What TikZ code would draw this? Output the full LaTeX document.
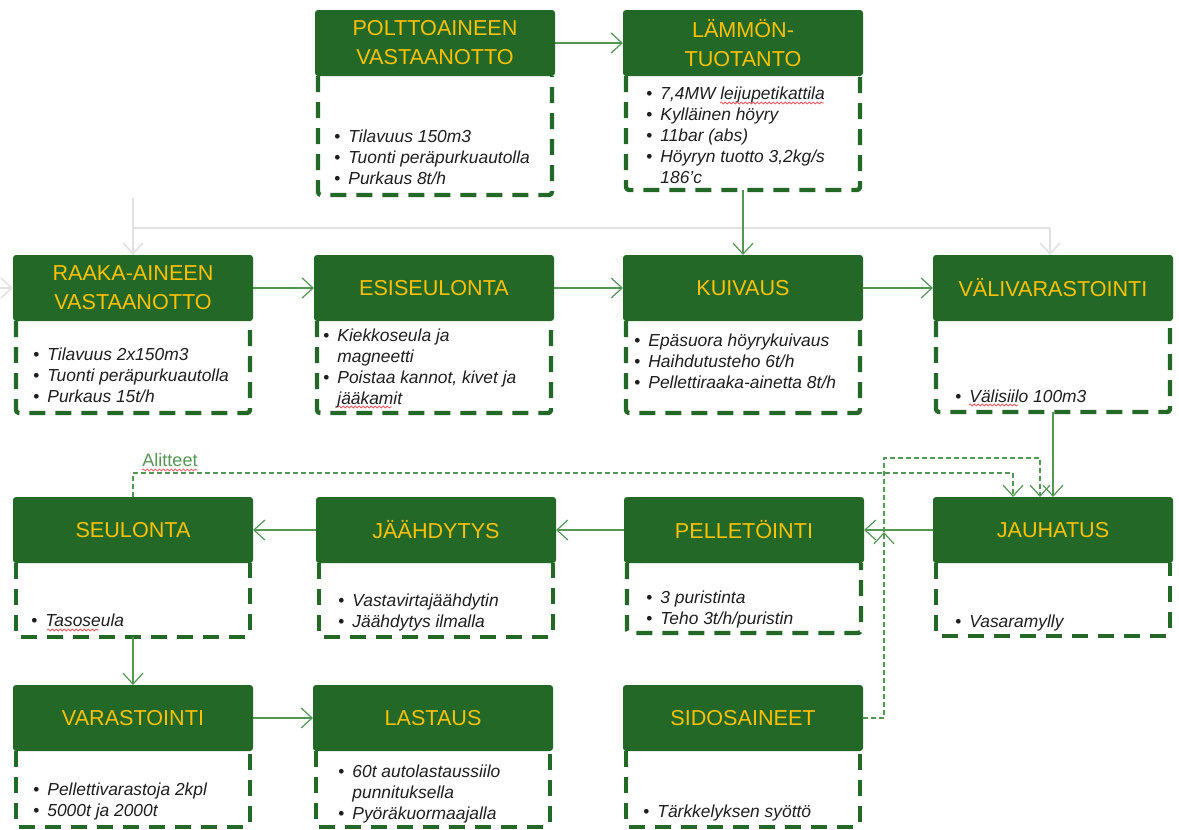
\documentclass[tikz,border=0pt]{standalone}
\usepackage{fontspec}
\setmainfont{Liberation Sans}
\usetikzlibrary{arrows.meta,positioning,decorations.pathmorphing}
\definecolor{hdgreen}{RGB}{35,104,39}
\definecolor{hdyellow}{RGB}{255,192,0}
\definecolor{lngreen}{RGB}{84,150,84}
\definecolor{lngrey}{RGB}{226,226,226}
\definecolor{txtcol}{RGB}{30,30,30}
\definecolor{spellred}{RGB}{235,90,90}
\newcommand{\lbul}{\makebox[7pt][l]{\upshape\textbullet}}
\newcommand{\lind}{\hspace*{7pt}}
\begin{document}
\begin{tikzpicture}[x=0.5pt,y=-0.5pt,line join=round,>={Straight Barb[length=5.5pt,width=10pt]}]
\tikzset{head/.style={fill=hdgreen,text=hdyellow,rounded corners=1.5pt,minimum width=120pt,minimum height=33pt,inner sep=0pt,outer sep=0pt,align=center,font=\fontsize{10.8}{14.5}\selectfont},
  frame/.style={minimum width=117pt,inner sep=0pt,outer sep=0pt},
  dashbox/.style={draw=hdgreen,line width=2.2pt,dash pattern=on 8pt off 5pt,rounded corners=1.5pt},
  lst/.style={anchor=north west,inner sep=0pt,align=left,text=txtcol,font=\fontsize{8.7}{10.5}\selectfont\itshape},
  flow/.style={draw=lngreen,line width=0.6pt,->},
  gflow/.style={draw=lngrey,line width=0.8pt},
  dflow/.style={draw=lngreen,line width=0.6pt,dash pattern=on 2.5pt off 1.5pt},
  squig/.style={draw=spellred,line width=0.4pt,decorate,decoration={snake,amplitude=0.5pt,segment length=2pt}}}
\useasboundingbox (0,0) rectangle (1179,830);
\node[head] (polt) at (435,43) {POLTTOAINEEN\\VASTAANOTTO};
\node[head] (lammo) at (743,43) {LÄMMÖN-\\TUOTANTO};
\node[head] (raaka) at (133,288) {RAAKA-AINEEN\\VASTAANOTTO};
\node[head] (esis) at (434,288) {ESISEULONTA};
\node[head] (kuiv) at (743,288) {KUIVAUS};
\node[head] (vali) at (1053,288) {VÄLIVARASTOINTI};
\node[head] (seul) at (133,530) {SEULONTA};
\node[head] (jaah) at (436,530) {JÄÄHDYTYS};
\node[head] (pell) at (744,530) {PELLETÖINTI};
\node[head] (jauh) at (1053,530) {JAUHATUS};
\node[head] (vara) at (133,718) {VARASTOINTI};
\node[head] (last) at (433,718) {LASTAUS};
\node[head] (sido) at (743,718) {SIDOSAINEET};
\foreach \n/\h in {polt/59.5pt,lammo/57pt,raaka/46pt,esis/46pt,kuiv/46pt,vali/45.5pt,seul/37pt,jaah/37pt,pell/35pt,jauh/36.5pt,vara/38pt,last/38pt,sido/38pt}
{\node[frame,minimum height=\h,below=0pt of \n] (\n f) {};
 \draw[dashbox] (\n f.north west) |- (\n f.south east) -- (\n f.north east);}
\node[lst] (polttxt) at (334,129) {\lbul Tilavuus 150m3\\\lbul Tuonti peräpurkuautolla\\\lbul Purkaus 8t/h};
\node[lst] (lammotxt) at (646,86) {\lbul 7,4MW leijupetikattila\\\lbul Kylläinen höyry\\\lbul 11bar (abs)\\\lbul Höyryn tuotto 3,2kg/s\\\lind 186’c};
\node[lst] (raakatxt) at (33,347) {\lbul Tilavuus 2x150m3\\\lbul Tuonti peräpurkuautolla\\\lbul Purkaus 15t/h};
\node[lst] (esistxt) at (323,328) {\lbul Kiekkoseula ja\\\lind magneetti\\\lbul Poistaa kannot, kivet ja\\\lind jääkamit};
\node[lst] (kuivtxt) at (634,333) {\lbul Epäsuora höyrykuivaus\\\lbul Haihdutusteho 6t/h\\\lbul Pellettiraaka-ainetta 8t/h};
\node[lst] (valitxt) at (955,389) {\lbul Välisiilo 100m3};
\node[lst] (seultxt) at (31,613) {\lbul Tasoseula};
\node[lst] (jaahtxt) at (338,593) {\lbul Vastavirtajäähdytin\\\lbul Jäähdytys ilmalla};
\node[lst] (pelltxt) at (646,590) {\lbul 3 puristinta\\\lbul Teho 3t/h/puristin};
\node[lst] (jauhtxt) at (955,614) {\lbul Vasaramylly};
\node[lst] (varatxt) at (33,782) {\lbul Pellettivarastoja 2kpl\\\lbul 5000t ja 2000t};
\node[lst] (lasttxt) at (338,764) {\lbul 60t autolastaussiilo\\\lind punnituksella\\\lbul Pyöräkuormaajalla};
\node[lst] (sidotxt) at (643,804) {\lbul Tärkkelyksen syöttö};
\coordinate (gtop) at (133,198);
\coordinate (gmid) at (133,228);
\coordinate (gright) at (1050,228);
\coordinate (gin) at (0,288);
\draw[gflow] (gmid) -- (gright);
\draw[gflow,->] (gtop) -- (raaka.north);
\draw[gflow,->] (gright) -- (gright |- vali.north);
\draw[gflow,->] (gin) -- (raaka.west);
\draw[flow] (polt.east) -- (lammo.west);
\draw[flow] (lammof.south) -- (kuiv.north);
\draw[flow] (raaka.east) -- (esis.west);
\draw[flow] (esis.east) -- (kuiv.west);
\draw[flow] (kuiv.east) -- (vali.west);
\draw[flow] (valif.south) -- (valif.south |- jauh.north);
\draw[flow] (jauh.west) -- (pell.east);
\draw[flow] (pell.west) -- (jaah.east);
\draw[flow] (jaah.west) -- (seul.east);
\draw[flow] (seulf.south) -- (vara.north);
\draw[flow] (vara.east) -- (last.west);
\coordinate (alit) at (1013,473);
\draw[dflow,->] (seul.north) |- (alit) -- (alit |- jauh.north);
\node[text=lngreen,font=\fontsize{9}{10}\selectfont,inner sep=0pt] (alitlbl) at (170,460) {Alitteet};
\coordinate (sidotip) at (884,532);
\coordinate (sidotop) at (1040,458);
\draw[dflow,->] (sido.east) -| (sidotip);
\draw[dflow,->] (sidotip) |- (sidotop) -- (sidotop |- jauh.north);
\draw[squig] (alitlbl.south west) ++(0,3) -- ++(56,0);
\draw[squig] (720,103) -- (824,103);
\draw[squig] (338,407) -- (392,407);
\draw[squig] (969,405) -- (1018,405);
\draw[squig] (47,630) -- (99,630);
\end{tikzpicture}
\end{document}
